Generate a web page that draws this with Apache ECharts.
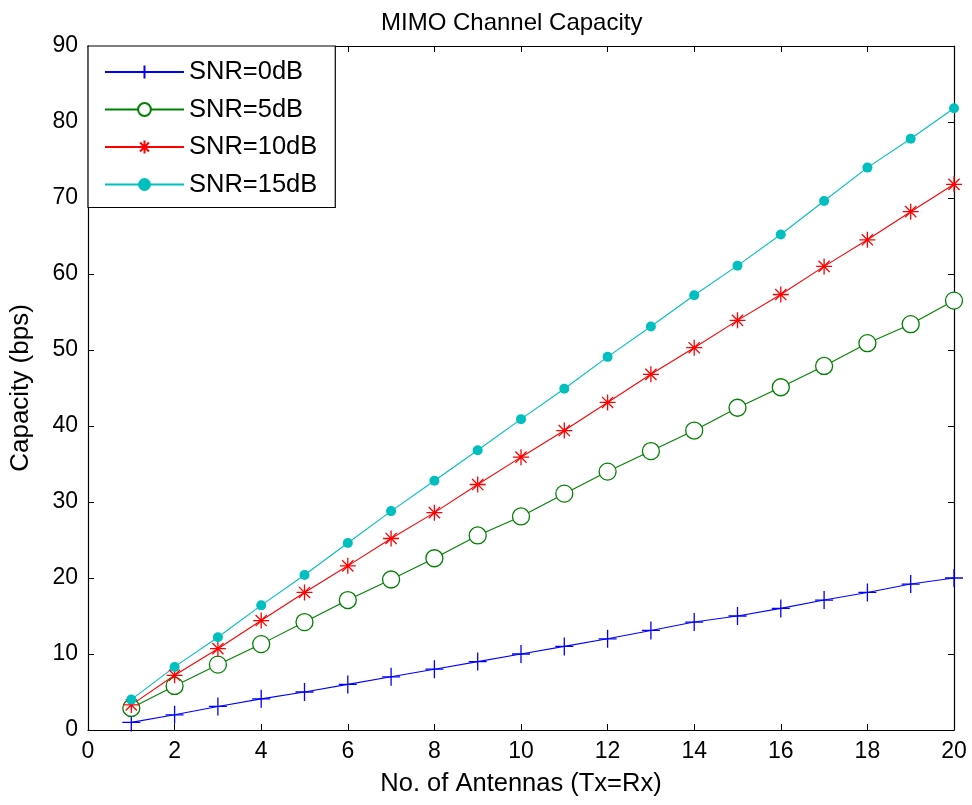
<!DOCTYPE html>
<html>
<head>
<meta charset="utf-8">
<title>MIMO Channel Capacity</title>
<script src="https://cdn.jsdelivr.net/npm/echarts@6/dist/echarts.min.js"></script>
<style>
  html, body { margin: 0; padding: 0; background: #fff; }
  #chart { width: 972px; height: 805px; }
</style>
</head>
<body>
<div id="chart"></div>
<script>
// number of antennas (Tx=Rx)
const antennas = [1, 2, 3, 4, 5, 6, 7, 8, 9, 10, 11, 12, 13, 14, 15, 16, 17, 18, 19, 20]

// capacity (bps), one array per SNR
const snr0 = [1.0, 2.0, 3.1, 4.1, 5.0, 6.0, 7.0, 8.0, 9.0, 10.0, 11.0, 12.0, 13.1, 14.2, 15.0, 16.0, 17.1, 18.1, 19.2, 20.0]
const snr5 = [2.9, 5.8, 8.6, 11.3, 14.2, 17.1, 19.8, 22.6, 25.6, 28.1, 31.1, 34.0, 36.7, 39.4, 42.4, 45.1, 47.9, 50.9, 53.4, 56.5]
const snr10 = [3.3, 7.2, 10.7, 14.4, 18.1, 21.6, 25.2, 28.6, 32.3, 35.9, 39.4, 43.1, 46.8, 50.3, 53.9, 57.3, 61.0, 64.5, 68.2, 71.8]
const snr15 = [4.0, 8.3, 12.2, 16.4, 20.4, 24.6, 28.8, 32.8, 36.8, 40.9, 44.9, 49.1, 53.1, 57.2, 61.1, 65.2, 69.6, 74.0, 77.8, 81.8]

const seriesNames = ['SNR=0dB', 'SNR=5dB', 'SNR=10dB', 'SNR=15dB']

const FONT = 'Liberation Sans, Arial, sans-serif'

// matlab-ish markers
const plusPath = 'path://M0,-10L0,10M-10,0L10,0'
const starPath = 'path://M0,-10L0,10M-10,0L10,0M-7,-7L7,7M-7,7L7,-7'

function pairs(ys) {
  return antennas.map((x, i) => [x, ys[i]])
}

function makeSeries(name, ys, color, symbol, size, filled) {
  return {
    name: name,
    type: 'line',
    data: pairs(ys),
    symbol: symbol,
    symbolSize: size,
    showSymbol: true,
    animation: false,
    lineStyle: { color: color, width: 1.1 },
    itemStyle: {
      color: filled ? color : '#fff',
      borderColor: color,
      borderWidth: filled ? 0 : 1.3,
      opacity: 1
    },
    emphasis: { disabled: true }
  }
}

const chart = echarts.init(document.getElementById('chart'))

const axisCommon = {
  axisLine: { show: true, onZero: false, lineStyle: { color: '#000', width: 1.2 } },
  axisTick: { show: true, inside: true, length: 6, lineStyle: { color: '#000' } },
  splitLine: { show: false }
}

chart.setOption({
  backgroundColor: '#fff',
  title: {
    text: 'MIMO Channel Capacity',
    left: 376,
    top: 6,
    textStyle: { fontFamily: FONT, fontSize: 24, fontWeight: 'normal', color: '#000' }
  },
  grid: { left: 88, right: 18, top: 46, bottom: 75, containLabel: false },
  legend: {
    data: seriesNames,
    orient: 'vertical',
    left: 88,
    top: 46,
    backgroundColor: '#fff',
    borderColor: '#000',
    borderWidth: 1.2,
    borderRadius: 0,
    padding: [13, 18, 10, 16],
    itemWidth: 79,
    itemHeight: 16,
    itemGap: 11.5,
    textStyle: { fontFamily: FONT, fontSize: 25.5, color: '#000' }
  },
  xAxis: [
    Object.assign({
      type: 'value',
      min: 0,
      max: 20,
      interval: 2,
      position: 'bottom',
      name: 'No. of Antennas (Tx=Rx)',
      nameLocation: 'middle',
      nameGap: 41,
      nameTextStyle: { fontFamily: FONT, fontSize: 25.5, color: '#000' },
      axisLabel: { fontFamily: FONT, fontSize: 23, color: '#000', margin: 10 }
    }, axisCommon),
    Object.assign({
      type: 'value',
      min: 0,
      max: 20,
      interval: 2,
      position: 'top',
      axisLabel: { show: false }
    }, axisCommon)
  ],
  yAxis: [
    Object.assign({
      type: 'value',
      min: 0,
      max: 90,
      interval: 10,
      position: 'left',
      name: 'Capacity (bps)',
      nameLocation: 'middle',
      nameGap: 54,
      nameTextStyle: { fontFamily: FONT, fontSize: 26, color: '#000' },
      axisLabel: { fontFamily: FONT, fontSize: 23, color: '#000', margin: 10 }
    }, axisCommon),
    Object.assign({
      type: 'value',
      min: 0,
      max: 90,
      interval: 10,
      position: 'right',
      axisLabel: { show: false }
    }, axisCommon)
  ],
  series: [
    makeSeries(seriesNames[0], snr0, '#0000ff', plusPath, 18, false),
    makeSeries(seriesNames[1], snr5, '#008000', 'circle', 17, false),
    makeSeries(seriesNames[2], snr10, '#ff0000', starPath, 16, false),
    makeSeries(seriesNames[3], snr15, '#00bfbf', 'circle', 10, true)
  ]
})
</script>
</body>
</html>
